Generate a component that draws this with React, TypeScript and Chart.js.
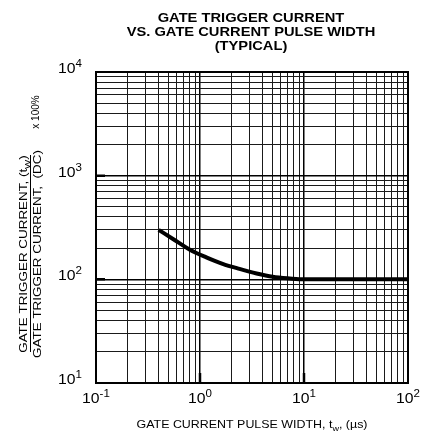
import React, { useEffect, useRef } from "react";
import { Chart, registerables } from "chart.js";

Chart.register(...registerables);

// ---- data ----
const pulseWidthUs = [0.4, 0.55, 0.8, 1.15, 1.65, 2.4, 3.5, 5, 7.3, 10, 100];
const triggerCurrentPct = [300, 245, 193, 163, 141, 126, 114, 106, 102, 100, 100];

const xDecades = [0.1, 1, 10, 100];
const yDecades = [10, 100, 1000, 10000];
const xTickExponents = ["-1", "0", "1", "2"];
const yTickExponents = ["1", "2", "3", "4"];
const minorMultipliers = [1, 2, 3, 4, 5, 6, 7, 8, 9];

const titleLines = [
  "GATE TRIGGER CURRENT",
  "VS. GATE CURRENT PULSE WIDTH",
  "(TYPICAL)",
];
const xTitle = ["GATE CURRENT PULSE WIDTH, t", "w", ", (\u00b5s)"];
const yTitleNum = ["GATE TRIGGER CURRENT, (t", "W", ")"];
const yTitleDen = "GATE TRIGGER CURRENT,  (DC)";
const yTitleFactor = "x 100%";

const FONT = '"Liberation Sans", Arial, Helvetica, sans-serif';

type Part = { text: string; size: number; dy?: number; bold?: boolean };

function drawParts(
  ctx: CanvasRenderingContext2D,
  parts: Part[],
  x: number,
  y: number,
  align: "left" | "center" | "right",
  sx: number
) {
  ctx.save();
  ctx.translate(x, y);
  ctx.scale(sx, 1);
  ctx.textAlign = "left";
  ctx.textBaseline = "alphabetic";
  ctx.fillStyle = "#000";
  const widths: number[] = [];
  let total = 0;
  for (const p of parts) {
    ctx.font = `${p.bold ? "bold " : ""}${p.size}px ${FONT}`;
    const w = ctx.measureText(p.text).width;
    widths.push(w);
    total += w;
  }
  let cx = align === "center" ? -total / 2 : align === "right" ? -total : 0;
  parts.forEach((p, i) => {
    ctx.font = `${p.bold ? "bold " : ""}${p.size}px ${FONT}`;
    ctx.fillText(p.text, cx, p.dy || 0);
    cx += widths[i];
  });
  ctx.restore();
}

function drawRotated(
  ctx: CanvasRenderingContext2D,
  parts: Part[],
  x: number,
  y: number,
  sx: number
) {
  ctx.save();
  ctx.translate(x, y);
  ctx.rotate(-Math.PI / 2);
  drawParts(ctx, parts, 0, 0, "center", sx);
  ctx.restore();
}

function buildTicks(decades: number[]) {
  const vals: { value: number; major: boolean }[] = [];
  for (let i = 0; i < decades.length - 1; i++) {
    for (const m of minorMultipliers) {
      vals.push({ value: decades[i] * m, major: m === 1 });
    }
  }
  vals.push({ value: decades[decades.length - 1], major: true });
  return vals;
}

const decorPlugin = {
  id: "decor",
  afterDraw(chart: any) {
    const ctx: CanvasRenderingContext2D = chart.ctx;
    const area = chart.chartArea;
    const xs = chart.scales.x;
    const ys = chart.scales.y;
    ctx.save();

    // frame
    ctx.strokeStyle = "#000";
    ctx.lineWidth = 2;
    ctx.strokeRect(area.left, area.top, area.right - area.left, area.bottom - area.top);

    // inward major ticks
    ctx.lineWidth = 2.5;
    ctx.beginPath();
    yDecades.slice(1, -1).forEach((v) => {
      const py = ys.getPixelForValue(v);
      ctx.moveTo(area.left, py);
      ctx.lineTo(area.left + 9, py);
    });
    xDecades.slice(1, -1).forEach((v) => {
      const px = xs.getPixelForValue(v);
      ctx.moveTo(px, area.bottom);
      ctx.lineTo(px, area.bottom - 10);
    });
    ctx.stroke();

    // title
    const cxTitle = (area.left + area.right) / 2 - 1;
    drawParts(ctx, [{ text: titleLines[0], size: 13, bold: true }], cxTitle, 22, "center", 1.13);
    drawParts(ctx, [{ text: titleLines[1], size: 13, bold: true }], cxTitle, 36, "center", 1.13);
    drawParts(ctx, [{ text: titleLines[2], size: 13, bold: true }], cxTitle, 50, "center", 1.13);

    // y tick labels
    yDecades.forEach((v, i) => {
      const py = ys.getPixelForValue(v);
      drawParts(
        ctx,
        [
          { text: "10", size: 15 },
          { text: yTickExponents[i], size: 11, dy: -6 },
        ],
        area.left - 14,
        py + 1,
        "right",
        1.05
      );
    });

    // x tick labels
    xDecades.forEach((v, i) => {
      const px = xs.getPixelForValue(v);
      drawParts(
        ctx,
        [
          { text: "10", size: 15 },
          { text: xTickExponents[i], size: 11, dy: -6 },
        ],
        px,
        area.bottom + 20,
        "center",
        1.05
      );
    });

    // x title
    drawParts(
      ctx,
      [
        { text: xTitle[0], size: 11 },
        { text: xTitle[1], size: 8, dy: 3 },
        { text: xTitle[2], size: 11 },
      ],
      (area.left + area.right) / 2,
      428,
      "center",
      1.13
    );

    // y title (rotated fraction)
    const cy = 254;
    drawRotated(
      ctx,
      [
        { text: yTitleNum[0], size: 11 },
        { text: yTitleNum[1], size: 8, dy: 3 },
        { text: yTitleNum[2], size: 11 },
      ],
      27,
      cy,
      1.22
    );
    drawRotated(ctx, [{ text: yTitleDen, size: 11 }], 41, cy, 1.22);
    drawRotated(ctx, [{ text: yTitleFactor, size: 10 }], 39, 112, 1);

    ctx.strokeStyle = "#000";
    ctx.lineWidth = 1;
    ctx.beginPath();
    ctx.moveTo(30.5, 155);
    ctx.lineTo(30.5, 352);
    ctx.stroke();

    ctx.restore();
  },
};

export default function App() {
  const ref = useRef<HTMLCanvasElement | null>(null);

  useEffect(() => {
    if (!ref.current) return;
    const gridOpts = {
      drawTicks: false,
      color: (c: any) => (c.tick && c.tick.major ? "#000" : "#1a1a1a"),
      lineWidth: (c: any) => (c.tick && c.tick.major ? 1.5 : 1),
    };
    const chart = new Chart(ref.current, {
      type: "line",
      data: {
        datasets: [
          {
            data: pulseWidthUs.map((x, i) => ({ x, y: triggerCurrentPct[i] })),
            borderColor: "#000",
            borderWidth: 4,
            pointRadius: 0,
            fill: false,
            cubicInterpolationMode: "monotone",
            borderCapStyle: "butt",
          } as any,
        ],
      },
      options: {
        animation: false,
        responsive: false,
        events: [],
        layout: { padding: { left: 96, right: 32, top: 72, bottom: 52 } },
        plugins: { legend: { display: false }, tooltip: { enabled: false }, title: { display: false } },
        scales: {
          x: {
            type: "logarithmic",
            min: 0.1,
            max: 100,
            border: { display: false },
            grid: gridOpts as any,
            ticks: { display: false },
            afterBuildTicks: (s: any) => {
              s.ticks = buildTicks(xDecades);
            },
            afterFit: (s: any) => {
              s.height = 0;
            },
          },
          y: {
            type: "logarithmic",
            min: 10,
            max: 10000,
            border: { display: false },
            grid: gridOpts as any,
            ticks: { display: false },
            afterBuildTicks: (s: any) => {
              s.ticks = buildTicks(yDecades);
            },
            afterFit: (s: any) => {
              s.width = 0;
            },
          },
        },
      },
      plugins: [decorPlugin],
    });
    return () => chart.destroy();
  }, []);

  return (
    <div style={{ position: "fixed", left: 0, top: 0, width: 440, height: 435, background: "#fff" }}>
      <canvas ref={ref} width={440} height={435} style={{ width: 440, height: 435, display: "block" }} />
    </div>
  );
}
